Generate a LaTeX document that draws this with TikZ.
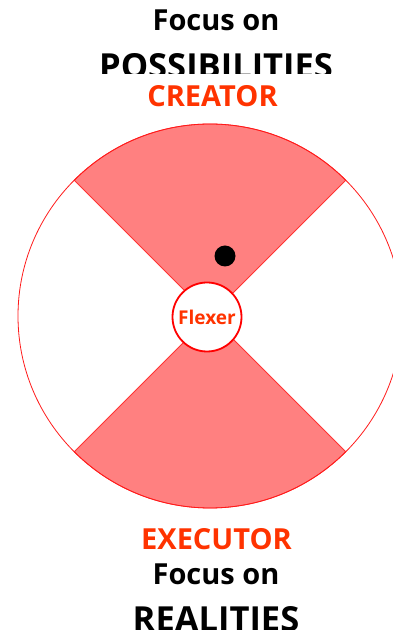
\documentclass[tikz,border=0pt]{standalone}
\usepackage{fontspec}
\setmainfont{Open Sans}
\definecolor{rolered}{HTML}{FF3300}
\definecolor{wedgered}{HTML}{FF8080}
\tikzset{
  focus/.style={font=\bfseries\fontsize{29}{32}\selectfont, inner sep=0pt, anchor=north},
  pole/.style={font=\bfseries\fontsize{34.5}{36}\selectfont, inner sep=0pt, anchor=north},
  role/.style={font=\bfseries\fontsize{29}{30}\selectfont, text=rolered, inner sep=0pt, anchor=north},
  wedge/.style={fill=wedgered, draw=red!80, line width=0.8pt}
}

\begin{document}
\begin{tikzpicture}[x=1pt,y=1pt]
	\useasboundingbox (0,0) rectangle (393,630);
	\clip (0,0) rectangle (393,630);
	\coordinate (c) at (210,314);

	% top and bottom wedges
	\draw[wedge] (c) -- ++(45:192) arc[start angle=45, end angle=135, radius=192] -- cycle;
	\draw[wedge] (c) -- ++(225:192) arc[start angle=225, end angle=315, radius=192] -- cycle;
	% outer ring
	\draw[red!90, line width=0.8pt] (c) circle[radius=192];

	% dot
	\fill (225,374) circle[radius=10.5];
	% centre
	\node[circle, draw=red, fill=white, line width=1.8pt, minimum size=69pt, inner sep=0pt,
	      text=rolered, font=\bfseries\fontsize{19}{21}\selectfont] (flexer) at (207,313) {Flexer};

	% texts on top
	\node[focus] (focustop) at (216,620.5) {Focus on};
	\begin{scope}
		\clip (0,556) rectangle (393,630);
		\node[pole] (possib) at (216,577) {POSSIBILITIES};
	\end{scope}
	\node[role] (creator) at (212.5,544.5) {CREATOR};

	% texts below
	\node[role] (executor) at (216.5,102) {EXECUTOR};
	\node[focus] (focusbot) at (216,66) {Focus on};
	\node[pole] (realit) at (216,24) {REALITIES};
\end{tikzpicture}
\end{document}
